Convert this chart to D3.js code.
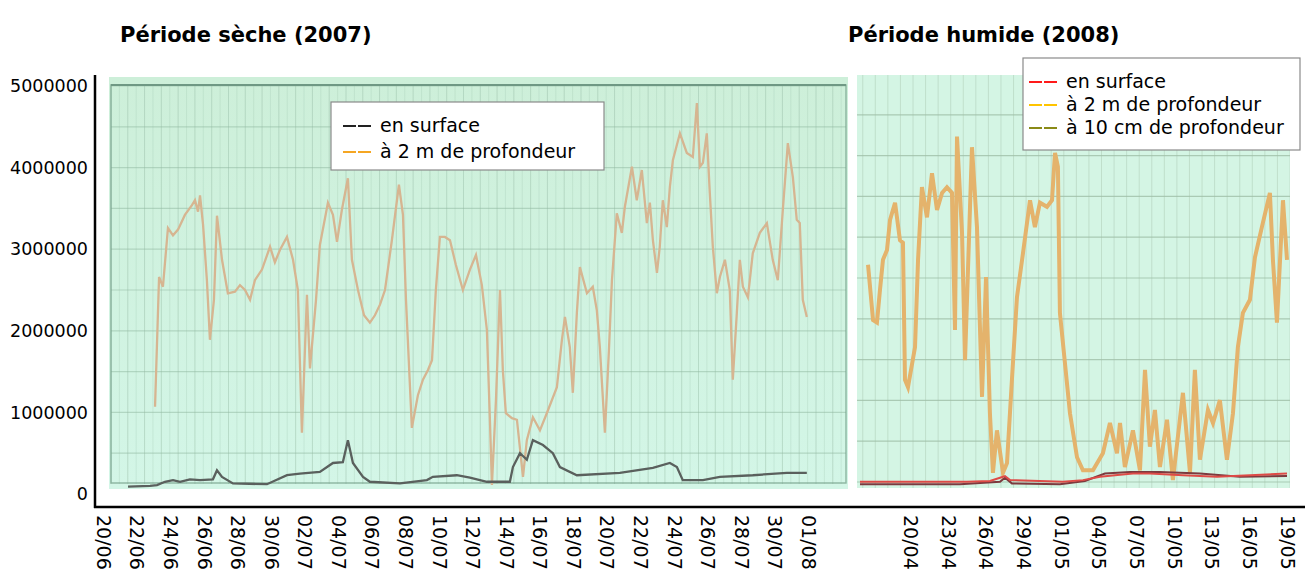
<!DOCTYPE html>
<html>
<head>
<meta charset="utf-8">
<script src="https://cdn.jsdelivr.net/npm/d3@7"></script>
<style>
  body { margin: 0; background: #fff; }
  svg { font-family: "DejaVu Sans", Verdana, sans-serif; }
</style>
</head>
<body>
<svg id="chart" width="1305" height="579"></svg>
<script>
// tick labels
const yTicks = [0, 1000000, 2000000, 3000000, 4000000, 5000000];
const leftDates = ["20/06","22/06","24/06","26/06","28/06","30/06","02/07","04/07","06/07","08/07","10/07",
                   "12/07","14/07","16/07","18/07","20/07","22/07","24/07","26/07","28/07","30/07","01/08"];
const rightDates = ["20/04","23/04","26/04","29/04","01/05","04/05","07/05","10/05","13/05","16/05","19/05"];

// dry period 2007 : [days since 20/06, value in millions]
const dry2m = [[3.10,1.07],[3.34,2.66],[3.57,2.54],[3.87,3.26],[4.17,3.17],[4.47,3.24],[4.88,3.42],[5.30,3.54],
  [5.48,3.60],[5.66,3.46],[5.78,3.66],[5.96,3.30],[6.19,2.62],[6.37,1.89],[6.61,2.38],[6.79,3.41],[7.09,2.87],
  [7.44,2.46],[7.86,2.48],[8.16,2.56],[8.46,2.50],[8.76,2.38],[9.05,2.62],[9.47,2.75],[9.95,3.03],[10.24,2.84],
  [10.54,2.99],[10.96,3.15],[11.32,2.87],[11.61,2.50],[11.85,0.75],[12.15,2.44],[12.33,1.54],[12.69,2.38],
  [12.92,3.05],[13.40,3.57],[13.70,3.42],[13.94,3.09],[14.23,3.48],[14.59,3.87],[14.83,2.87],[15.19,2.50],
  [15.55,2.19],[15.90,2.10],[16.20,2.19],[16.50,2.32],[16.80,2.50],[17.21,3.11],[17.63,3.79],[17.87,3.42],
  [18.05,2.38],[18.40,0.81],[18.76,1.21],[19.06,1.40],[19.36,1.52],[19.60,1.64],[19.83,2.50],[20.07,3.15],
  [20.37,3.15],[20.67,3.11],[21.02,2.81],[21.44,2.50],[21.86,2.75],[22.22,2.93],[22.57,2.56],[22.87,2.01],
  [23.05,0.91],[23.17,0.11],[23.41,1.15],[23.65,2.50],[23.82,1.52],[24.00,0.99],[24.36,0.93],[24.66,0.91],
  [25.02,0.21],[25.25,0.66],[25.61,0.94],[26.03,0.78],[26.44,0.99],[27.04,1.31],[27.34,1.89],[27.52,2.17],
  [27.81,1.80],[27.99,1.24],[28.23,2.22],[28.41,2.78],[28.83,2.46],[29.18,2.54],[29.42,2.25],[29.60,1.80],
  [29.90,0.75],[30.14,1.76],[30.32,2.62],[30.61,3.44],[30.91,3.20],[31.09,3.52],[31.51,4.01],[31.80,3.60],
  [32.10,3.97],[32.40,3.32],[32.58,3.57],[32.76,3.11],[33.00,2.71],[33.17,3.03],[33.35,3.60],[33.59,3.27],
  [33.77,3.76],[33.95,4.09],[34.37,4.42],[34.78,4.18],[35.14,4.13],[35.38,4.79],[35.56,4.01],[35.74,4.06],
  [35.97,4.42],[36.15,3.69],[36.33,3.03],[36.57,2.46],[36.75,2.66],[37.05,2.87],[37.34,2.50],[37.52,1.40],
  [37.76,2.22],[37.94,2.87],[38.12,2.54],[38.42,2.41],[38.71,2.95],[39.13,3.20],[39.55,3.32],[39.90,2.87],
  [40.20,2.62],[40.50,3.48],[40.80,4.30],[41.10,3.88],[41.33,3.36],[41.51,3.32],[41.69,2.38],[41.93,2.17]];

const drySurface = [[1.49,0.09],[2.80,0.10],[3.22,0.11],[3.69,0.15],[4.17,0.17],[4.59,0.15],[5.18,0.18],
  [5.78,0.17],[6.55,0.18],[6.79,0.29],[7.09,0.21],[7.74,0.13],[9.77,0.12],[10.96,0.23],[11.73,0.25],
  [12.92,0.27],[13.70,0.38],[14.29,0.39],[14.59,0.66],[14.89,0.38],[15.49,0.21],[15.90,0.15],[17.69,0.13],
  [19.30,0.17],[19.65,0.21],[21.08,0.23],[21.86,0.20],[22.87,0.15],[24.24,0.15],[24.42,0.33],[24.84,0.50],
  [25.25,0.42],[25.61,0.66],[26.21,0.60],[26.80,0.50],[27.22,0.33],[28.23,0.23],[30.79,0.26],[32.76,0.32],
  [33.77,0.38],[34.19,0.33],[34.54,0.17],[35.74,0.17],[36.75,0.21],[38.71,0.23],[40.74,0.26],[41.93,0.26]];

// wet period 2008 : [days since 20/04 (3 days per tick), value in millions]
const wet2m = [[-3.34,2.81],[-2.94,2.13],[-2.63,2.10],[-2.39,2.50],[-2.15,2.87],[-1.83,2.99],[-1.59,3.36],
  [-1.19,3.57],[-0.80,3.11],[-0.56,3.08],[-0.40,1.40],[-0.16,1.31],[0.40,1.80],[0.64,2.87],[0.95,3.76],
  [1.35,3.39],[1.75,3.93],[2.15,3.48],[2.55,3.69],[2.94,3.76],[3.34,3.69],[3.58,2.01],[3.74,4.38],[4.14,3.20],
  [4.38,1.64],[4.93,4.25],[5.33,3.27],[5.73,1.19],[6.05,2.66],[6.36,0.99],[6.60,0.26],[6.92,0.78],[7.40,0.26],
  [7.72,0.38],[8.11,1.40],[8.51,2.41],[8.99,2.95],[9.55,3.60],[9.94,3.27],[10.34,3.57],[10.90,3.52],
  [11.30,3.60],[11.54,4.18],[11.77,4.01],[11.93,2.22],[12.73,0.99],[13.29,0.45],[13.76,0.29],[14.56,0.29],
  [15.35,0.50],[15.91,0.87],[16.47,0.50],[16.71,0.87],[17.10,0.33],[17.74,0.78],[18.30,0.29],[18.70,1.52],
  [19.09,0.58],[19.49,1.03],[19.89,0.33],[20.45,0.91],[20.92,0.17],[21.72,1.24],[22.28,0.26],[22.67,1.52],
  [23.07,0.42],[23.71,1.03],[24.11,0.87],[24.66,1.15],[25.22,0.42],[25.70,0.99],[26.09,1.80],[26.49,2.22],
  [27.05,2.38],[27.45,2.90],[28.00,3.27],[28.64,3.69],[28.88,2.87],[29.20,2.10],[29.68,3.60],[30.00,2.87]];

const wetSurface = [[-3.98,0.15],[4.53,0.15],[6.36,0.16],[7.16,0.20],[7.56,0.22],[7.96,0.17],[12.17,0.15],
  [13.76,0.17],[15.12,0.21],[16.31,0.23],[17.74,0.25],[19.09,0.25],[21.72,0.23],[24.42,0.21],[27.05,0.23],[30.00,0.25]];

const wet10cm = [[-3.98,0.12],[3.98,0.12],[7.16,0.15],[7.56,0.20],[8.11,0.13],[11.93,0.12],[13.92,0.16],
  [15.51,0.25],[17.50,0.27],[19.89,0.27],[23.07,0.25],[26.25,0.21],[30.00,0.22]];

const svg = d3.select("#chart");

// scales
const y = d3.scaleLinear().domain([0, 5000000]).range([494, 86]);
const xLeft = d3.scaleLinear().domain([0, 42]).range([103, 808]);
const xRight = d3.scaleLinear().domain([0, 30]).range([910, 1287]);

// soft look of the scanned panels
const defs = svg.append("defs");
defs.append("filter").attr("id", "soft")
    .append("feGaussianBlur").attr("stdDeviation", 0.6);
const gradL = defs.append("linearGradient").attr("id", "bgL").attr("x1", 0).attr("y1", 0).attr("x2", 0).attr("y2", 1);
gradL.append("stop").attr("offset", "0%").attr("stop-color", "#cdefd9");
gradL.append("stop").attr("offset", "100%").attr("stop-color", "#d3f6e7");
defs.append("clipPath").attr("id", "clipL").append("rect")
    .attr("x", 109).attr("y", 77).attr("width", 739).attr("height", 412);
defs.append("clipPath").attr("id", "clipR").append("rect")
    .attr("x", 857).attr("y", 75).attr("width", 433).attr("height", 413);

// titles
svg.append("text").attr("x", 120).attr("y", 42)
    .style("font-size", "21px").style("font-weight", "bold").text("Période sèche (2007)");
svg.append("text").attr("x", 848).attr("y", 42)
    .style("font-size", "21px").style("font-weight", "bold").text("Période humide (2008)");

// left panel background + grid
const left = svg.append("g").attr("clip-path", "url(#clipL)");
left.append("rect").attr("x", 109).attr("y", 77).attr("width", 739).attr("height", 412).attr("fill", "url(#bgL)");
left.selectAll(".vgrid").data(d3.range(0, 44, 0.5)).enter().append("line")
    .attr("x1", d => xLeft(d) + 8).attr("x2", d => xLeft(d) + 8)
    .attr("y1", 84).attr("y2", 484)
    .attr("stroke", "#9cc2ab").attr("stroke-width", 1)
    .attr("stroke-opacity", (d, i) => i % 2 ? 0.25 : 0.5);
left.selectAll(".hgrid").data(d3.range(500000, 5000001, 500000)).enter().append("line")
    .attr("x1", 111).attr("x2", 846)
    .attr("y1", d => y(d)).attr("y2", d => y(d))
    .attr("stroke", "#8fb8a0").attr("stroke-opacity", 0.5).attr("stroke-width", 1.2);
// frame of the scanned chart
left.append("rect").attr("x", 111).attr("y", 85).attr("width", 735).attr("height", 398)
    .attr("fill", "none").attr("stroke", "#7aa58f").attr("stroke-opacity", 0.8).attr("stroke-width", 1.4);
left.append("line").attr("x1", 111).attr("x2", 846).attr("y1", 85).attr("y2", 85)
    .attr("stroke", "#6f9884").attr("stroke-width", 2);

const lineL = d3.line().x(d => xLeft(d[0])).y(d => y(d[1] * 1e6));
left.append("path").datum(dry2m).attr("d", lineL)
    .attr("fill", "none").attr("stroke", "#d6b591").attr("stroke-width", 2.3).attr("filter", "url(#soft)");
left.append("path").datum(drySurface).attr("d", lineL)
    .attr("fill", "none").attr("stroke", "#5a605d").attr("stroke-width", 2.3).attr("filter", "url(#soft)");

// right panel background + grid
const right = svg.append("g").attr("clip-path", "url(#clipR)");
right.append("rect").attr("x", 857).attr("y", 75).attr("width", 433).attr("height", 413).attr("fill", "#d4f5e4");
right.selectAll(".vgrid").data(d3.range(-4, 31, 1)).enter().append("line")
    .attr("x1", d => xRight(d) + 3).attr("x2", d => xRight(d) + 3)
    .attr("y1", 75).attr("y2", 488)
    .attr("stroke", "#b3d0ba").attr("stroke-opacity", 0.6);
right.selectAll(".hgrid").data(d3.range(0, 5000001, 500000)).enter().append("line")
    .attr("x1", 857).attr("x2", 1290)
    .attr("y1", d => y(d) - 12).attr("y2", d => y(d) - 12)
    .attr("stroke", "#9fbfa8").attr("stroke-opacity", 0.8).attr("stroke-width", 1.2);

const lineR = d3.line().x(d => xRight(d[0])).y(d => y(d[1] * 1e6));
right.append("path").datum(wet2m).attr("d", lineR)
    .attr("fill", "none").attr("stroke", "#e4b36c").attr("stroke-width", 4).attr("filter", "url(#soft)");
right.append("path").datum(wet10cm).attr("d", lineR)
    .attr("fill", "none").attr("stroke", "#7c3a3e").attr("stroke-width", 2);
right.append("path").datum(wetSurface).attr("d", lineR)
    .attr("fill", "none").attr("stroke", "#de4b47").attr("stroke-width", 2);

// y axis
svg.append("g")
    .attr("transform", "translate(95,0)")
    .call(d3.axisLeft(y).tickValues(yTicks).tickFormat(d3.format("d")).tickSize(0).tickPadding(7))
    .call(g => g.select(".domain").remove())
    .selectAll("text")
    .style("font-family", "DejaVu Sans, sans-serif")
    .style("font-size", "17.5px").attr("fill", "#000");
svg.append("line").attr("x1", 95).attr("x2", 95).attr("y1", 75).attr("y2", 508)
    .attr("stroke", "#000").attr("stroke-width", 2.5);
svg.append("line").attr("x1", 94).attr("x2", 1305).attr("y1", 507).attr("y2", 507)
    .attr("stroke", "#000").attr("stroke-width", 2.5);

// x axes, labels rotated
function dateAxis(scale, labels, step) {
    svg.append("g")
        .attr("transform", "translate(0,507)")
        .call(d3.axisBottom(scale)
            .tickValues(labels.map((d, i) => i * step))
            .tickFormat((d, i) => labels[i])
            .tickSize(0))
        .call(g => g.select(".domain").remove())
        .selectAll("text")
        .attr("transform", "rotate(90)")
        .attr("x", 8).attr("y", 0).attr("dy", "0.35em")
        .style("text-anchor", "start")
        .style("font-family", "DejaVu Sans, sans-serif")
        .style("font-size", "19px").attr("fill", "#000");
}
dateAxis(xLeft, leftDates, 2);
dateAxis(xRight, rightDates, 3);

// legends
function legend(x, y0, w, h, items, gap, textX) {
    const g = svg.append("g");
    g.append("rect").attr("x", x).attr("y", y0).attr("width", w).attr("height", h)
        .attr("fill", "#fff").attr("stroke", "#8a8a8a").attr("stroke-width", 1.2);
    items.forEach((it, i) => {
        const cy = y0 + 24 + i * gap;
        g.append("line").attr("x1", textX - 37).attr("x2", textX - 8).attr("y1", cy).attr("y2", cy)
            .attr("stroke", it.color).attr("stroke-width", 2).attr("stroke-dasharray", "13,2");
        g.append("text").attr("x", textX).attr("y", cy + 6)
            .style("font-size", "19px").text(it.label);
    });
}
legend(331, 102, 273, 68, [
    {label: "en surface", color: "#222"},
    {label: "à 2 m de profondeur", color: "#f5a623"}
], 26, 380);
legend(1023, 58, 277, 92, [
    {label: " en surface", color: "#ff1a1a"},
    {label: "à 2 m de profondeur", color: "#ffc400"},
    {label: "à 10 cm de profondeur", color: "#8a8a16"}
], 23, 1066);
</script>
</body>
</html>
